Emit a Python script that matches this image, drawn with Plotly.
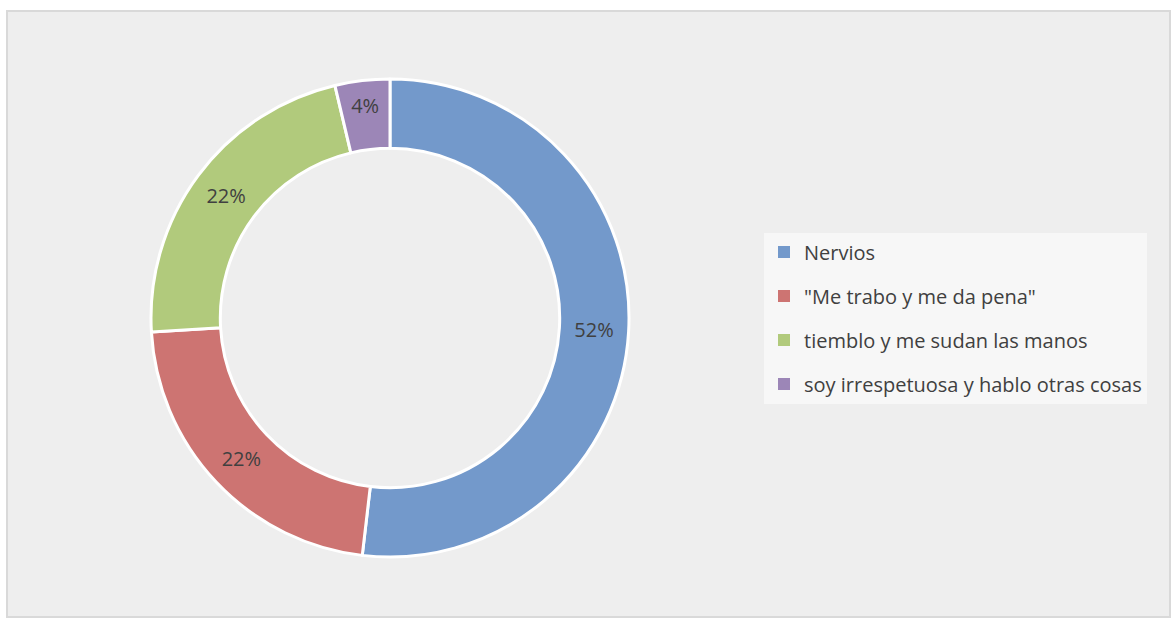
import plotly.graph_objects as go

# Responses (counts): 52%, 22%, 22%, 4% of 27 answers
labels = [
    "Nervios",
    "\"Me trabo y me da pena\"",
    "tiemblo y me sudan las manos",
    "soy irrespetuosa y hablo otras cosas",
]
counts = [14, 6, 6, 1]
colors = ["#7399CB", "#CD7472", "#B1CA7C", "#9C86B7"]

W, H = 1173, 620
FONT = "Open Sans"
TEXT_COLOR = "#404040"

fig = go.Figure()

fig.add_trace(
    go.Pie(
        labels=labels,
        values=counts,
        hole=0.71,
        sort=False,
        direction="clockwise",
        rotation=0,
        texttemplate="%{percent:.0%}",
        textposition="inside",
        insidetextorientation="horizontal",
        textfont=dict(family=FONT, size=20, color=TEXT_COLOR),
        marker=dict(colors=colors, line=dict(color="white", width=3)),
        domain=dict(
            x=[(390 - 239) / W, (390 + 239) / W],
            y=[(H - 318 - 239) / H, (H - 318 + 239) / H],
        ),
        showlegend=False,
        hoverinfo="label+percent",
    )
)

# legend entries (separate groups so the rows can be spaced like the original)
for i, (lab, col) in enumerate(zip(labels, colors)):
    fig.add_trace(
        go.Scatter(
            x=[None],
            y=[None],
            mode="markers",
            marker=dict(symbol="square", size=8, color=col),
            name=lab,
            legendgroup=f"g{i}",
        )
    )

fig.update_layout(
    width=W,
    height=H,
    margin=dict(l=0, r=0, t=0, b=0),
    paper_bgcolor="white",
    plot_bgcolor="rgba(0,0,0,0)",
    xaxis=dict(visible=False),
    yaxis=dict(visible=False),
    shapes=[
        dict(
            type="rect",
            xref="paper",
            yref="paper",
            x0=7 / W,
            x1=1170 / W,
            y0=1 - 617 / H,
            y1=1 - 11 / H,
            fillcolor="#EEEEEE",
            line=dict(color="#D9D9D9", width=2),
            layer="below",
        )
    ],
    legend=dict(
        x=764 / W,
        y=(H - 318) / H,
        xanchor="left",
        yanchor="middle",
        bgcolor="#F7F7F7",
        font=dict(family=FONT, size=20, color=TEXT_COLOR),
        tracegroupgap=15,
        itemsizing="constant",
    ),
    font=dict(family=FONT, color=TEXT_COLOR),
)

# drop the default body margin so the figure sits at the page origin
fig.write_html(
    "out.html",
    config={"displayModeBar": False},
    post_script="document.body.style.margin = '0px';",
)
